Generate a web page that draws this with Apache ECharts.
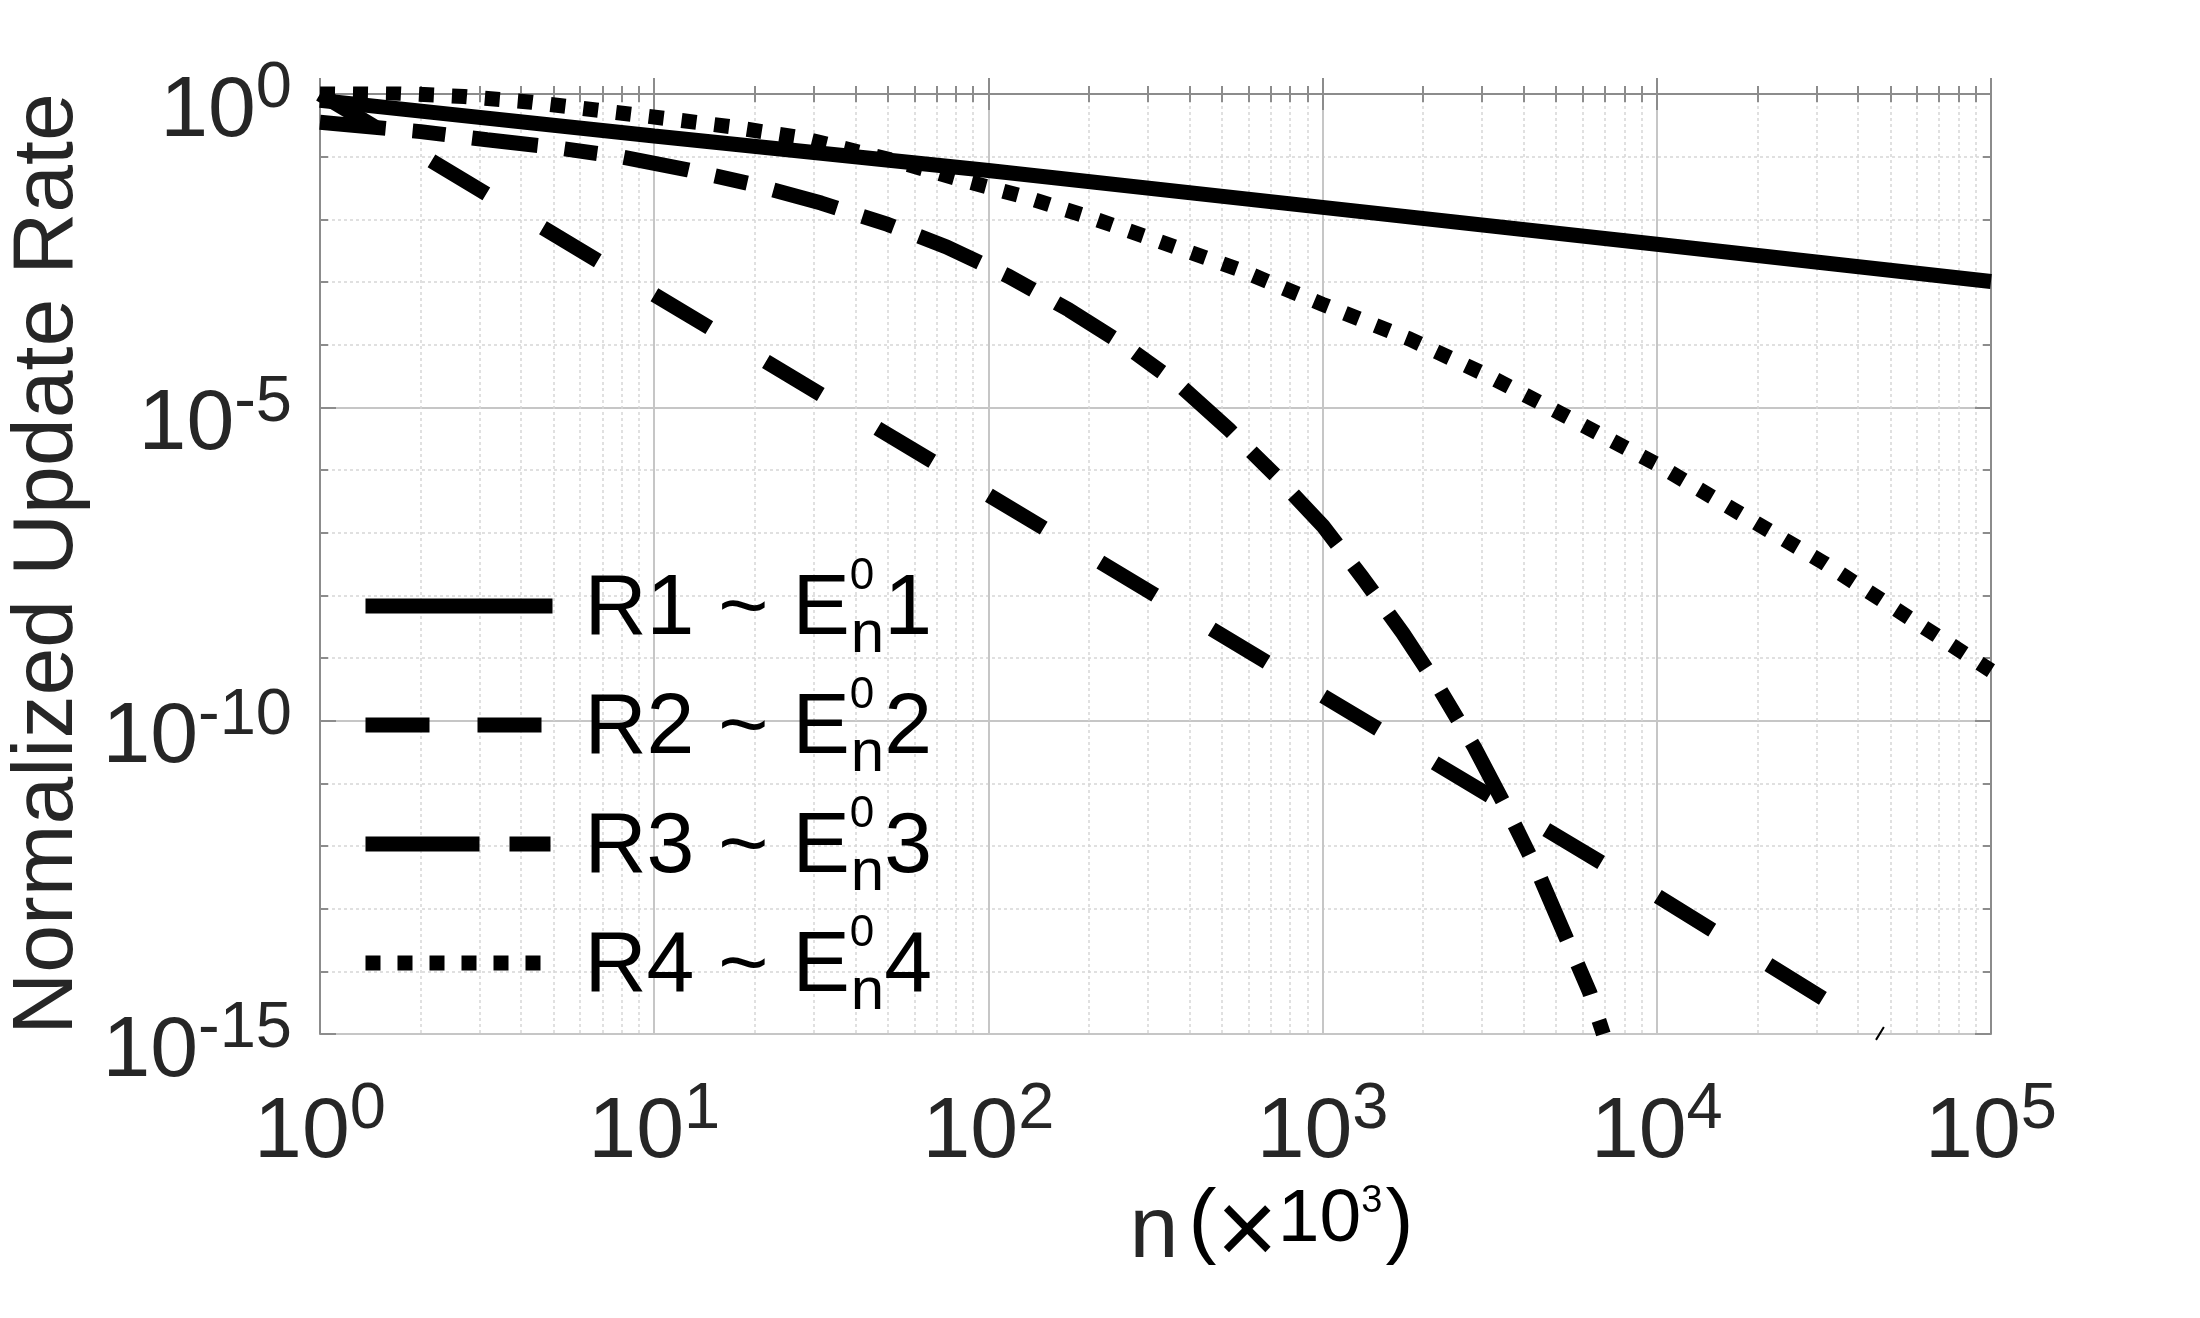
<!DOCTYPE html>
<html>
<head>
<meta charset="utf-8">
<title>Normalized Update Rate</title>
<script src="https://cdn.jsdelivr.net/npm/echarts@6/dist/echarts.min.js"></script>
<style>
  html, body { margin: 0; padding: 0; background: #fff; }
  #main { width: 2200px; height: 1318px; }
</style>
</head>
<body>
<div id="main"></div>
<script>
    // 数据：从图上读取 (n 单位 ×10^3)
    var seriesNames = ['R1', 'R2', 'R3', 'R4'];

    var r1N    = [1, 10, 100, 1000, 10000, 100000];
    var r1Rate = [0.79, 0.214, 0.06, 0.0155, 0.004, 0.00102];

    var r2N    = [1, 10, 100, 1000, 10000, 46800];
    var r2Rate = [1, 6.3e-4, 4e-7, 2.5e-10, 1.6e-13, 1e-15];

    var r3N    = [1, 2, 3.16, 5, 7.9, 12.6, 20, 31.6, 50, 75, 115, 174, 251, 372, 525, 724,
                  1000, 1318, 1738, 2239, 2851, 3548, 4365, 5248, 6310, 6920];
    var r3Rate = [0.355, 0.251, 0.186, 0.141, 0.1, 0.0617, 0.0355, 0.0182, 0.0083, 0.00363,
                  0.00123, 3.6e-4, 1.05e-4, 2.3e-5, 4.4e-6, 8.1e-7, 1.3e-7, 1.9e-8, 2.5e-9,
                  3.2e-10, 3.7e-11, 4e-12, 4.3e-13, 4.4e-14, 4.5e-15, 1e-15];

    var r4N    = [1, 1.66, 2.7, 4.3, 6.8, 10.7, 17, 27, 52, 83, 132, 204, 316, 562, 1000,
                  1820, 3160, 5130, 10000, 31600, 100000];
    var r4Rate = [1.1, 1.04, 0.91, 0.74, 0.55, 0.41, 0.30, 0.204, 0.087, 0.0427, 0.0219,
                  0.0105, 0.00468, 0.00158, 4.4e-4, 1.23e-4, 3.1e-5, 8.1e-6, 1.23e-6,
                  3.3e-8, 6.3e-10];

    // 刻度
    var xMinorTicks = [2, 3, 4, 5, 6, 7, 8, 9,
                       20, 30, 40, 50, 60, 70, 80, 90,
                       200, 300, 400, 500, 600, 700, 800, 900,
                       2000, 3000, 4000, 5000, 6000, 7000, 8000, 9000,
                       20000, 30000, 40000, 50000, 60000, 70000, 80000, 90000];

    var FONT = '"Liberation Sans", Arial, Helvetica, sans-serif';
    var TEXT = '#262626';
    var AXIS = '#8c8c8c';
    var GRID_MAJOR = '#c6c6c6';
    var GRID_MINOR = '#d6d6d6';

    function pairs(xs, ys) {
        return xs.map(function (x, i) { return [x, ys[i]]; });
    }
    function pow10(exp) {
        return '{b|10}{s|' + exp + '}';
    }
    var xMinorExp = xMinorTicks.map(function (v) { return Math.log10(v); });

    var myChart = echarts.init(document.getElementById('main'));

    var axisLineStyle = { color: AXIS, width: 2 };

    var option = {
        animation: false,
        backgroundColor: '#ffffff',
        grid: {
            left: 320, right: 209, top: 94, bottom: 284,
            containLabel: false, outerBoundsMode: 'none'
        },
        legend: {
            data: [
                { name: 'R1' },
                { name: 'R2', lineStyle: { type: [64, 48] } },
                { name: 'R3', lineStyle: { type: [114, 30, 41, 30] } },
                { name: 'R4', lineStyle: { type: [15, 17] } }
            ],
            orient: 'vertical',
            left: 358,
            top: 555,
            padding: 0,
            itemGap: 9,
            itemWidth: 187,
            itemHeight: 15,
            selectedMode: false,
            lineStyle: { width: 15, cap: 'butt' },
            itemStyle: { opacity: 0 },
            formatter: function (name) {
                return '{a|' + name + ' ~ E}{sup|0}{sub|n}{a|' + name.slice(1) + '}';
            },
            textStyle: {
                fontFamily: FONT,
                color: '#000',
                padding: [8, 0, 0, 27],
                rich: {
                    a: { fontSize: 86, lineHeight: 110, fontFamily: FONT, color: '#000' },
                    sup: { fontSize: 44, lineHeight: 49, verticalAlign: 'top', width: 1,
                           fontFamily: FONT, color: '#000' },
                    sub: { fontSize: 60, lineHeight: 55, verticalAlign: 'bottom',
                           fontFamily: FONT, color: '#000' }
                }
            }
        },
        xAxis: [
            {
                type: 'log', logBase: 10, min: 1, max: 100000, position: 'bottom',
                axisLine: { show: true, lineStyle: axisLineStyle },
                axisTick: { show: true, inside: true, length: 16, lineStyle: axisLineStyle },
                axisLabel: {
                    margin: 44,
                    formatter: function (v) { return pow10(Math.round(Math.log10(v))); },
                    rich: {
                        b: { fontSize: 86, lineHeight: 110, fontFamily: FONT, color: TEXT },
                        s: { fontSize: 65, lineHeight: 40, verticalAlign: 'top', fontFamily: FONT, color: TEXT }
                    }
                },
                splitLine: { show: true, lineStyle: { color: GRID_MAJOR, width: 2 } },
                name: '{n|n}{p|(}{x|×}{t|10}{s|3}{p|)}',
                nameLocation: 'middle',
                nameGap: 149,
                nameTextStyle: {
                    fontFamily: FONT, color: TEXT,
                    padding: [0, 0, 0, 232],
                    rich: {
                        n: { fontSize: 88, lineHeight: 100, padding: [0, 10, 0, 0], fontFamily: FONT, color: TEXT },
                        p: { fontSize: 84, lineHeight: 80, verticalAlign: 'top', fontFamily: FONT, color: '#000' },
                        x: { fontSize: 105, lineHeight: 88, verticalAlign: 'top', fontFamily: FONT, color: '#000' },
                        t: { fontSize: 75, lineHeight: 86, verticalAlign: 'top', fontFamily: FONT, color: '#000' },
                        s: { fontSize: 38, lineHeight: 64, verticalAlign: 'top', padding: [0, 3, 0, 0], fontFamily: FONT, color: '#000' }
                    }
                }
            },
            {
                // 次刻度 (10^k 空间)
                type: 'value', min: 0, max: 5, position: 'bottom',
                axisLine: { show: false },
                axisLabel: { show: false },
                axisTick: { show: true, inside: true, length: 8, customValues: xMinorExp, lineStyle: axisLineStyle },
                splitLine: { show: true, lineStyle: { color: GRID_MINOR, width: 1.5, type: [3, 3] } }
            },
            {
                type: 'log', logBase: 10, min: 1, max: 100000, position: 'top',
                axisLine: { show: true, lineStyle: axisLineStyle },
                axisTick: { show: true, inside: true, length: 16, lineStyle: axisLineStyle },
                axisLabel: { show: false },
                splitLine: { show: false }
            },
            {
                type: 'value', min: 0, max: 5, position: 'top',
                axisLine: { show: false },
                axisLabel: { show: false },
                axisTick: { show: true, inside: true, length: 8, customValues: xMinorExp, lineStyle: axisLineStyle },
                splitLine: { show: false }
            }
        ],
        yAxis: [
            {
                // 数据轴
                type: 'log', logBase: 10, min: 1e-15, max: 1, show: false
            },
            {
                type: 'value', min: -15, max: 0, interval: 5, position: 'left',
                axisLine: { show: true, lineStyle: axisLineStyle },
                axisTick: { show: true, inside: true, length: 16, lineStyle: axisLineStyle },
                minorTick: { show: true, splitNumber: 5, length: 8, lineStyle: axisLineStyle },
                axisLabel: {
                    margin: 28,
                    padding: [36, 0, 0, 0],
                    formatter: function (v) { return pow10(v); },
                    rich: {
                        b: { fontSize: 86, lineHeight: 110, fontFamily: FONT, color: TEXT },
                        s: { fontSize: 65, lineHeight: 42, verticalAlign: 'top', fontFamily: FONT, color: TEXT }
                    }
                },
                splitLine: { show: true, lineStyle: { color: GRID_MAJOR, width: 2 } },
                minorSplitLine: { show: true, lineStyle: { color: GRID_MINOR, width: 1.5, type: [3, 3] } },
                name: 'Normalized Update Rate',
                nameLocation: 'middle',
                nameGap: 220,
                nameTextStyle: { fontSize: 86, fontFamily: FONT, color: TEXT }
            },
            {
                type: 'value', min: -15, max: 0, interval: 5, position: 'right',
                axisLine: { show: true, lineStyle: axisLineStyle },
                axisTick: { show: true, inside: true, length: 16, lineStyle: axisLineStyle },
                minorTick: { show: true, splitNumber: 5, length: 8, lineStyle: axisLineStyle },
                axisLabel: { show: false },
                splitLine: { show: false }
            }
        ],
        series: [
            {
                name: 'R1', type: 'line', xAxisIndex: 0, yAxisIndex: 0,
                data: pairs(r1N, r1Rate),
                symbol: 'none', showSymbol: false,
                lineStyle: { color: '#000', width: 15, type: 'solid', cap: 'butt' },
                itemStyle: { color: '#000' }
            },
            {
                name: 'R2', type: 'line', xAxisIndex: 0, yAxisIndex: 0,
                data: pairs(r2N, r2Rate),
                symbol: 'none', showSymbol: false,
                lineStyle: { color: '#000', width: 15, type: [64, 66], cap: 'butt' },
                itemStyle: { color: '#000' }
            },
            {
                name: 'R3', type: 'line', xAxisIndex: 0, yAxisIndex: 0,
                data: pairs(r3N, r3Rate),
                symbol: 'none', showSymbol: false,
                lineStyle: { color: '#000', width: 15, type: [66, 27, 33, 27], cap: 'butt' },
                itemStyle: { color: '#000' }
            },
            {
                name: 'R4', type: 'line', xAxisIndex: 0, yAxisIndex: 0,
                data: pairs(r4N, r4Rate),
                symbol: 'none', showSymbol: false,
                lineStyle: { color: '#000', width: 15, type: [15, 18], cap: 'butt' },
                itemStyle: { color: '#000' }
            }
        ]
    };

    myChart.setOption(option);
</script>
</body>
</html>
